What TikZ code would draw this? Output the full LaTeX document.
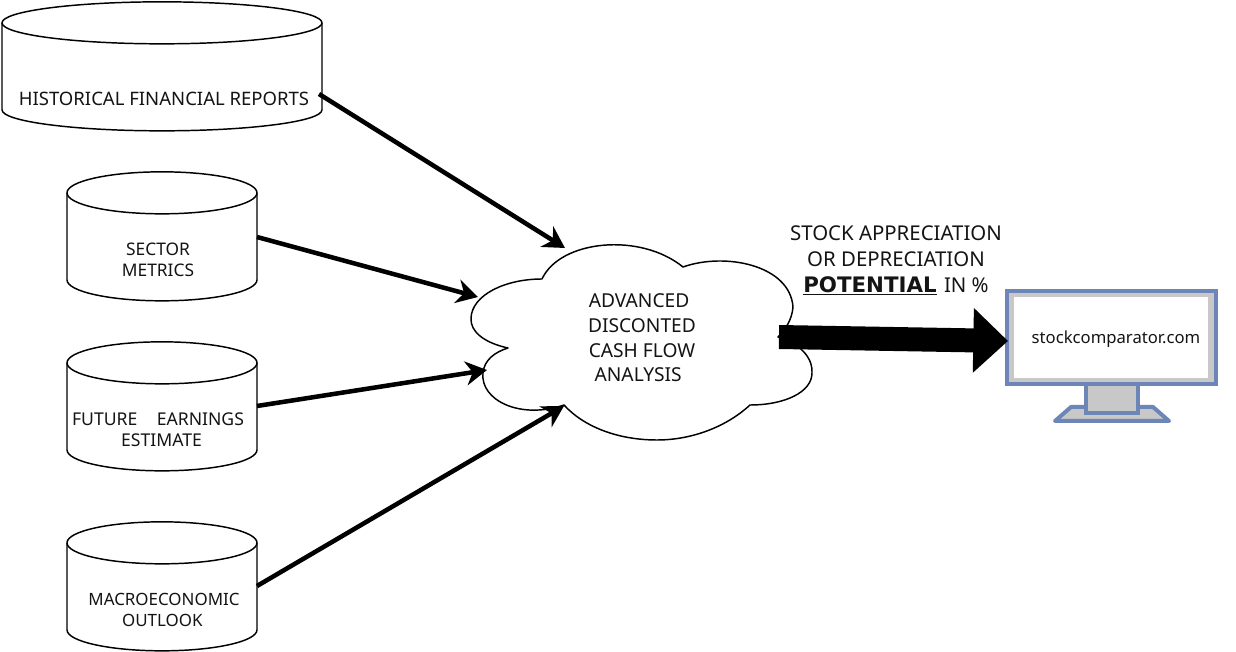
\documentclass[tikz,border=0pt]{standalone}
\usepackage{fontspec}
\setmainfont{Noto Sans}
\newfontfamily\strongfont{DejaVu Sans}
\usetikzlibrary{arrows.meta}
\definecolor{screen_blue}{RGB}{108, 134, 184}
\definecolor{screen_gray}{RGB}{200, 200, 200}
\definecolor{text_black}{RGB}{20, 20, 20}
\tikzstyle{small}=[rectangle,inner sep=0pt,outer sep=0pt,minimum width=142.5pt,minimum height=97pt]
\tikzstyle{big}=[rectangle,inner sep=0pt,outer sep=0pt,minimum width=240pt,minimum height=97pt]
\tikzstyle{outline}=[draw=black,line width=1.1pt,fill=white,line join=round]
\tikzstyle{lbl}=[align=center,inner sep=0pt,text=text_black,font=\fontsize{13}{15.6}\selectfont]
\tikzstyle{feed}=[-{Stealth[length=16pt,width=18pt]},line width=3.4pt,black]
\tikzstyle{output}=[-{Triangle[length=26pt,width=47pt]},line width=18pt,black]
\tikzstyle{frame}=[draw=screen_blue,line width=3pt,fill=screen_gray,line join=round]
\tikzstyle{none}=[inner sep=0pt]

\begin{document}
\begin{tikzpicture}[x=0.75pt,y=-0.75pt]
		\useasboundingbox (0, 0) rectangle (1236, 652);
		% data stores
		\node [style=big] (hist) at (162, 66.5) {};
		\node [style=small] (sector) at (162, 236.5) {};
		\node [style=small] (future) at (162, 406.5) {};
		\node [style=small] (macro) at (162, 586.5) {};
		\foreach \n/\r in {hist/120pt,sector/71.25pt,future/71.25pt,macro/71.25pt} {
			\draw [style=outline] (\n.north west) ++(0, 21)
				arc [start angle=180, end angle=0, x radius=\r, y radius=15.75pt]
				-- ++(0, 87)
				arc [start angle=0, end angle=-180, x radius=\r, y radius=15.75pt]
				-- cycle;
			\draw [style=outline,fill=none] (\n.north west) ++(0, 21)
				arc [start angle=180, end angle=360, x radius=\r, y radius=15.75pt];
		}
		\node [style=lbl,font=\fontsize{13.9}{15.6}\selectfont] (histlabel) at (164, 99) {HISTORICAL FINANCIAL REPORTS};
		\node [style=lbl] (sectorlabel) at (158, 260) {SECTOR\\METRICS};
		\node [style=lbl,font=\fontsize{13.2}{15.6}\selectfont] (futurelabel) at (158, 430) {FUTURE\hspace{1.1em}EARNINGS\\\hspace{0.4em}ESTIMATE};
		\node [style=lbl,font=\fontsize{12.7}{15.6}\selectfont] (macrolabel) at (164, 610) {MACROECONOMIC\\\hspace{-0.2em}OUTLOOK};
		% cloud
		\draw [style=outline] (542, 279)
			.. controls (560, 240) and (640, 232) .. (683, 267)
			.. controls (725, 252) and (790, 265) .. (793, 307)
			.. controls (792, 320) and (785, 330) .. (778, 337)
			.. controls (805, 345) and (813, 362) .. (812, 373)
			.. controls (812, 392) and (785, 405) .. (750, 405)
			.. controls (725, 428) and (690, 440) .. (657, 440)
			.. controls (620, 440) and (585, 428) .. (564, 405)
			.. controls (520, 420) and (480, 400) .. (483, 373)
			.. controls (484, 360) and (495, 352) .. (508, 348)
			.. controls (485, 343) and (470, 332) .. (471, 318)
			.. controls (472, 295) and (505, 279) .. (542, 279);
		\node [style=lbl,font=\fontsize{14.4}{18.5}\selectfont] (cloudlabel) at (642, 338) {\hspace{-0.3em}ADVANCED\\DISCONTED\\CASH FLOW\\\hspace{-0.4em}ANALYSIS};
		\coordinate (hist_out) at (319, 94);
		\coordinate (sector_out) at (257, 237);
		\coordinate (future_out) at (257, 406);
		\coordinate (macro_out) at (257, 586);
		\coordinate (cloud_a) at (565, 248);
		\coordinate (cloud_b) at (478, 297);
		\coordinate (cloud_c) at (487, 370);
		\coordinate (cloud_d) at (564, 406);
		\coordinate (cloud_out) at (779, 337);
		\coordinate (screen_in) at (1008, 341);
		\draw [style=feed] (hist_out) to (cloud_a);
		\draw [style=feed] (sector_out) to (cloud_b);
		\draw [style=feed] (future_out) to (cloud_c);
		\draw [style=feed] (macro_out) to (cloud_d);
		% monitor
		\draw [style=frame] (1055, 421) -- (1071, 407) -- (1153, 407) -- (1169, 421) -- cycle;
		\node [style=none,draw=screen_blue,line width=3pt,fill=screen_gray,minimum width=39pt,minimum height=23pt] (stand) at (1111.5, 398) {};
		\node [style=none,draw=screen_blue,line width=3pt,fill=screen_gray,minimum width=156.5pt,minimum height=69.5pt] (monitor) at (1111.5, 337.5) {};
		\node [style=none,fill=white,minimum width=145pt,minimum height=61pt] (screen) at (1111, 337.5) {};
		\node [style=none,text=text_black,font=\fontsize{12.5}{14}\selectfont] (site) at (1116, 339) {stockcomparator.com};
		\draw [style=output] (cloud_out) to (screen_in);
		\node [style=lbl,font=\fontsize{15.3}{19.4}\selectfont] (result) at (896, 260.5) {STOCK APPRECIATION\\OR DEPRECIATION\\\underline{\strongfont\bfseries\fontsize{16}{19.4}\selectfont POTENTIAL}\hspace{0.1em} IN \%};
\end{tikzpicture}
\end{document}
